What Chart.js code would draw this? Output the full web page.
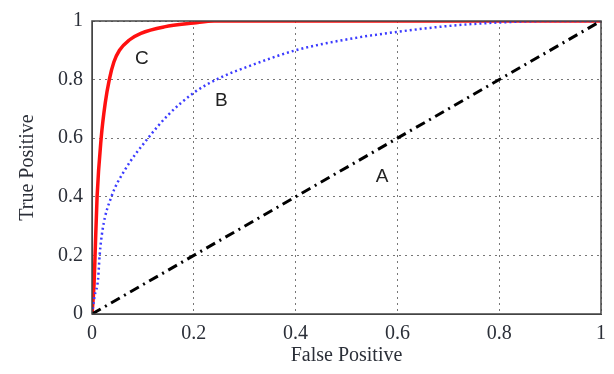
<!DOCTYPE html>
<html>
<head>
<meta charset="utf-8">
<script src="https://cdn.jsdelivr.net/npm/chart.js@4.4.1/dist/chart.umd.min.js"></script>
<style>
  html, body { margin: 0; padding: 0; background: #fff; }
  #wrap { width: 614px; height: 374px; }
</style>
</head>
<body>
<div id="wrap"><canvas id="roc"></canvas></div>
<script>
// --- DATA ---
const curveA_fp = [0, 1];
const curveA_tp = [0, 1];

const curveB_fp = [0, 0.005, 0.012, 0.015, 0.021, 0.038, 0.064, 0.11, 0.15, 0.2, 0.25, 0.315, 0.4, 0.5, 0.6, 0.7, 0.8, 0.9, 1];
const curveB_tp = [0, 0.06, 0.12, 0.2, 0.29, 0.4, 0.49, 0.6, 0.68, 0.755, 0.805, 0.85, 0.9, 0.937, 0.963, 0.983, 0.995, 1, 1];

const curveC_fp = [0, 0.004, 0.006, 0.01, 0.018, 0.026, 0.034, 0.043, 0.054, 0.074, 0.096, 0.142, 0.2, 0.24, 1];
const curveC_tp = [0, 0.1, 0.2, 0.4, 0.6, 0.72, 0.8, 0.86, 0.9, 0.936, 0.958, 0.98, 0.993, 1, 1];

const curveNames = ['A', 'B', 'C'];
const nameAtFp = [0.57, 0.254, 0.098];
const nameAtTp = [0.47, 0.727, 0.87];

const xTicks = ['0', '0.2', '0.4', '0.6', '0.8', '1'];
const yTicks = ['0', '0.2', '0.4', '0.6', '0.8', '1'];

const toPoints = (xs, ys) => xs.map((x, i) => ({ x: x, y: ys[i] }));

// box round the plot + curve letters
const boxAndNames = {
    id: 'boxAndNames',
    afterDatasetsDraw(chart) {
        const { ctx, chartArea: a, scales } = chart;
        ctx.save();
        ctx.strokeStyle = '#444';
        ctx.lineWidth = 1.5;
        ctx.setLineDash([]);
        ctx.strokeRect(a.left, a.top, a.right - a.left, a.bottom - a.top);

        ctx.fillStyle = '#222';
        ctx.font = '19px "Liberation Sans", Arial, sans-serif';
        ctx.textAlign = 'center';
        ctx.textBaseline = 'middle';
        curveNames.forEach((n, i) => {
            ctx.fillText(n, scales.x.getPixelForValue(nameAtFp[i]), scales.y.getPixelForValue(nameAtTp[i]));
        });
        ctx.restore();
    }
};

const serif = '"Liberation Serif", "Times New Roman", serif';

const gridOpts = {
    color: '#777',
    lineWidth: 1,
    drawTicks: false
};
const borderOpts = { display: true, color: '#444', dash: [2, 4] };

new Chart(document.getElementById('roc'), {
    type: 'scatter',
    data: {
        datasets: [
            {
                label: 'A',
                data: toPoints(curveA_fp, curveA_tp),
                showLine: true,
                borderColor: '#000',
                borderWidth: 3,
                borderDash: [10, 5, 2, 5],
                pointRadius: 0
            },
            {
                label: 'B',
                data: toPoints(curveB_fp, curveB_tp),
                showLine: true,
                borderColor: '#3b3bff',
                borderWidth: 2.5,
                borderDash: [2, 3],
                cubicInterpolationMode: 'monotone',
                pointRadius: 0
            },
            {
                label: 'C',
                data: toPoints(curveC_fp, curveC_tp),
                showLine: true,
                borderColor: '#ff1010',
                borderWidth: 3.5,
                cubicInterpolationMode: 'monotone',
                pointRadius: 0
            }
        ]
    },
    options: {
        responsive: true,
        maintainAspectRatio: false,
        animation: false,
        layout: { padding: { left: 0, right: 11, top: 14, bottom: 0 } },
        plugins: {
            legend: { display: false },
            tooltip: { enabled: false }
        },
        scales: {
            x: {
                type: 'linear',
                min: 0,
                max: 1,
                afterFit: s => { s.height = 60; },
                afterBuildTicks: s => { s.ticks = xTicks.map(t => ({ value: parseFloat(t) })); },
                ticks: {
                    callback: (v, i) => xTicks[i],
                    padding: 8,
                    maxRotation: 0,
                    color: '#2b2f38',
                    font: { family: serif, size: 20 }
                },
                grid: gridOpts,
                border: borderOpts,
                title: {
                    display: true,
                    text: 'False Positive',
                    color: '#2b2f38',
                    font: { family: serif, size: 20 },
                    padding: { top: 0, bottom: 6 }
                }
            },
            y: {
                type: 'linear',
                min: 0,
                max: 1,
                afterFit: s => { s.width = 92; },
                afterBuildTicks: s => { s.ticks = yTicks.map(t => ({ value: parseFloat(t) })); },
                ticks: {
                    callback: (v, i) => yTicks[i],
                    padding: 9,
                    color: '#2b2f38',
                    font: { family: serif, size: 20 }
                },
                grid: gridOpts,
                border: borderOpts,
                title: {
                    display: true,
                    text: 'True Positive',
                    color: '#2b2f38',
                    font: { family: serif, size: 20 },
                    padding: { top: 16, bottom: 0 }
                }
            }
        }
    },
    plugins: [boxAndNames]
});
</script>
</body>
</html>
